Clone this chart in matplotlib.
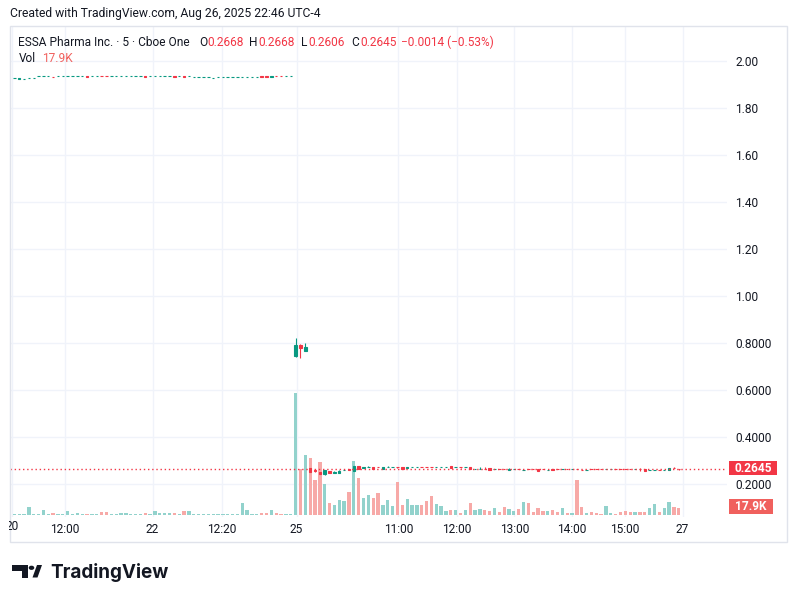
import matplotlib
matplotlib.use("Agg")
import matplotlib.pyplot as plt
import matplotlib.transforms as mtransforms
from matplotlib.patches import Rectangle, Circle, Polygon
import numpy as np

# ESSA Pharma, 5 min bars (index-based time axis like TradingView)
opens = [
    1.927, 1.925, 1.925, 1.927, 1.927, 1.937, 1.937, 1.937, 1.934, 1.937,
    1.937, 1.937, 1.937, 1.937, 1.937, 1.937, 1.937, 1.937, 1.938, 1.938,
    1.937, 1.937, 1.937, 1.937, 1.937, 1.937, 1.937, 1.937, 1.937, 1.937,
    1.937, 1.937, 1.937, 1.937, 1.937, 1.937, 1.937, 1.933, 1.933, 1.933,
    1.933, 1.927, 1.935, 1.935, 1.935, 1.935, 1.935, 1.935, 1.935, 1.935,
    1.935, 1.936, 1.936, 1.933, 1.938, 1.938, 1.937, 1.937,
    0.746, 0.794, 0.768, 0.268, 0.259, 0.252, 0.244, 0.258, 0.250, 0.250,
    0.261, 0.264, 0.258, 0.278, 0.271, 0.274, 0.272, 0.273, 0.265, 0.273,
    0.274, 0.275, 0.272, 0.271, 0.274, 0.274, 0.275, 0.273, 0.273, 0.274,
    0.274, 0.274, 0.278, 0.272, 0.273, 0.272, 0.274, 0.266, 0.266, 0.267,
    0.269, 0.264, 0.265, 0.265, 0.263, 0.264, 0.265, 0.261, 0.265, 0.265,
    0.264, 0.265, 0.259, 0.264, 0.265, 0.264, 0.265, 0.264, 0.265, 0.261,
    0.261, 0.265, 0.265, 0.265, 0.264, 0.264, 0.265, 0.265, 0.265, 0.265,
    0.264, 0.265, 0.264, 0.261, 0.261, 0.262, 0.261, 0.261, 0.270, 0.2668,
]
highs = [
    1.927, 1.929, 1.925, 1.927, 1.927, 1.937, 1.937, 1.937, 1.934, 1.937,
    1.937, 1.937, 1.937, 1.937, 1.937, 1.937, 1.937, 1.937, 1.938, 1.938,
    1.937, 1.937, 1.937, 1.937, 1.937, 1.937, 1.937, 1.937, 1.937, 1.937,
    1.937, 1.937, 1.937, 1.937, 1.937, 1.937, 1.937, 1.933, 1.933, 1.933,
    1.933, 1.927, 1.935, 1.935, 1.935, 1.935, 1.935, 1.935, 1.935, 1.935,
    1.935, 1.936, 1.936, 1.939, 1.938, 1.938, 1.937, 1.937,
    0.823, 0.797, 0.803, 0.270, 0.264, 0.252, 0.261, 0.258, 0.258, 0.261,
    0.261, 0.265, 0.278, 0.278, 0.275, 0.278, 0.272, 0.273, 0.272, 0.278,
    0.274, 0.275, 0.272, 0.274, 0.274, 0.274, 0.275, 0.273, 0.273, 0.274,
    0.274, 0.274, 0.278, 0.272, 0.275, 0.272, 0.274, 0.266, 0.272, 0.272,
    0.269, 0.265, 0.265, 0.265, 0.268, 0.264, 0.265, 0.261, 0.265, 0.265,
    0.264, 0.265, 0.260, 0.264, 0.265, 0.264, 0.265, 0.264, 0.265, 0.261,
    0.261, 0.265, 0.265, 0.265, 0.264, 0.264, 0.265, 0.265, 0.265, 0.265,
    0.264, 0.269, 0.264, 0.261, 0.261, 0.262, 0.261, 0.269, 0.272, 0.2668,
]
lows = [
    1.927, 1.925, 1.925, 1.927, 1.927, 1.937, 1.937, 1.937, 1.933, 1.937,
    1.937, 1.937, 1.937, 1.937, 1.937, 1.932, 1.937, 1.937, 1.937, 1.937,
    1.937, 1.937, 1.937, 1.937, 1.937, 1.937, 1.937, 1.932, 1.937, 1.937,
    1.937, 1.937, 1.937, 1.932, 1.937, 1.932, 1.937, 1.933, 1.933, 1.933,
    1.933, 1.927, 1.935, 1.935, 1.935, 1.935, 1.935, 1.935, 1.935, 1.935,
    1.935, 1.935, 1.935, 1.933, 1.937, 1.937, 1.937, 1.937,
    0.743, 0.737, 0.768, 0.253, 0.254, 0.244, 0.240, 0.250, 0.250, 0.250,
    0.261, 0.261, 0.258, 0.265, 0.268, 0.274, 0.265, 0.272, 0.265, 0.272,
    0.274, 0.270, 0.265, 0.271, 0.274, 0.274, 0.274, 0.272, 0.272, 0.274,
    0.274, 0.274, 0.269, 0.272, 0.268, 0.272, 0.264, 0.266, 0.266, 0.266,
    0.262, 0.264, 0.264, 0.264, 0.263, 0.264, 0.264, 0.261, 0.264, 0.264,
    0.258, 0.264, 0.259, 0.260, 0.264, 0.264, 0.264, 0.264, 0.264, 0.260,
    0.261, 0.264, 0.264, 0.264, 0.264, 0.264, 0.264, 0.264, 0.264, 0.264,
    0.264, 0.258, 0.255, 0.261, 0.261, 0.261, 0.261, 0.261, 0.269, 0.2606,
]
closes = [
    1.927, 1.929, 1.925, 1.927, 1.927, 1.937, 1.937, 1.937, 1.933, 1.937,
    1.937, 1.937, 1.937, 1.937, 1.937, 1.932, 1.937, 1.937, 1.937, 1.937,
    1.937, 1.937, 1.937, 1.937, 1.937, 1.937, 1.937, 1.932, 1.937, 1.937,
    1.937, 1.937, 1.937, 1.932, 1.937, 1.932, 1.937, 1.933, 1.933, 1.933,
    1.933, 1.927, 1.935, 1.935, 1.935, 1.935, 1.935, 1.935, 1.935, 1.935,
    1.935, 1.935, 1.935, 1.939, 1.937, 1.937, 1.937, 1.937,
    0.793, 0.779, 0.783, 0.254, 0.257, 0.244, 0.261, 0.250, 0.254, 0.257,
    0.261, 0.262, 0.278, 0.265, 0.272, 0.275, 0.265, 0.272, 0.272, 0.274,
    0.274, 0.274, 0.265, 0.272, 0.274, 0.274, 0.274, 0.272, 0.272, 0.274,
    0.274, 0.274, 0.269, 0.272, 0.272, 0.272, 0.264, 0.266, 0.266, 0.266,
    0.262, 0.265, 0.264, 0.264, 0.264, 0.264, 0.264, 0.261, 0.264, 0.264,
    0.258, 0.264, 0.260, 0.260, 0.264, 0.264, 0.264, 0.264, 0.264, 0.260,
    0.261, 0.264, 0.264, 0.264, 0.264, 0.264, 0.264, 0.264, 0.264, 0.264,
    0.264, 0.264, 0.255, 0.261, 0.261, 0.261, 0.261, 0.269, 0.269, 0.2645,
]
# volume in thousands
volumes = [
    2, 2, 2, 19.5, 2, 2, 13.4, 2, 3.5, 2,
    2, 10.7, 2, 3.5, 2, 2, 2, 2, 6.1, 7.2,
    2, 2, 5.3, 5.3, 2, 2, 2, 3.5, 2, 10.7,
    5.3, 5.3, 3.5, 3.5, 2, 8.8, 8.8, 2, 2, 2,
    2, 2, 2, 2, 2, 2, 2, 30.2, 11.5, 2,
    2, 3.5, 3.5, 11.5, 5.3, 2.7, 2.7, 2.7,
    326, 122, 159, 151, 93, 142, 83, 32, 27, 40,
    37, 61, 144, 99, 45, 53, 45, 59, 27, 40,
    24, 88, 27, 43, 27, 27, 27, 37, 51, 29,
    24, 11, 13, 13, 5, 13, 32, 13, 16, 13,
    11, 18, 7, 21, 15, 11, 15, 35, 32, 7,
    18, 11, 11, 13, 7, 18, 5, 5, 93, 21,
    5, 7, 5, 3, 23, 5, 3, 7, 10, 7,
    7, 7, 7, 18, 29, 7, 18, 34, 21, 17.9,
]

time_labels = ["20", "12:00", "22", "12:20", "25", "11:00", "12:00", "13:00", "14:00", "15:00", "27"]
time_pos = [-0.4, 10.5, 28.5, 42.8, 58.2, 79.2, 91.2, 103.1, 115.0, 125.9, 137.8]
price_levels = [0.2, 0.4, 0.6, 0.8, 1.0, 1.2, 1.4, 1.6, 1.8, 2.0]
price_labels = ["0.2000", "0.4000", "0.6000", "0.8000", "1.00", "1.20", "1.40", "1.60", "1.80", "2.00"]
last_price = 0.2645
last_vol = "17.9K"

UP, DOWN = "#089981", "#f23645"
VUP, VDOWN = "#92d2cc", "#f7a9a7"
GRID, FRAME, TXT = "#f0f3fa", "#e0e3eb", "#131722"

W, H = 798, 603
plt.rcParams["font.family"] = ["Roboto", "DejaVu Sans"]

fig = plt.figure(figsize=(W / 100, H / 100), dpi=100)
fig.patch.set_facecolor("white")


def fx(x):
    return x / W


def fy(y):
    return 1 - y / H


# chart pane, pixel box
L, T, R, B = 10, 26, 727, 517
ax = fig.add_axes([fx(L), fy(B), (R - L) / W, (B - T) / H])
ax.set_facecolor("white")
ax.set_xlim(-0.89, 146.95)
ax.set_ylim(0.0609, 2.150)
for s in ax.spines.values():
    s.set_visible(False)

# grid
ax.set_axisbelow(True)
ax.set_xticks(time_pos[1:])
ax.set_xticklabels(time_labels[1:])
ax.yaxis.tick_right()
ax.set_yticks(price_levels)
ax.set_yticklabels(price_labels)
ax.grid(True, color=GRID, lw=1.0)
ax.axvline(time_pos[0], color=GRID, lw=1.0, zorder=0.5)
ax.tick_params(axis="both", length=0, colors=TXT, labelsize=8.6)
ax.tick_params(axis="x", pad=4)
ax.tick_params(axis="y", pad=6)

x = np.arange(len(closes))
o = np.array(opens)
c = np.array(closes)
up = c >= o
col = np.where(up, UP, DOWN)
vcol = np.where(up, VUP, VDOWN)

# volume overlay in the lower part of the pane
vol_tr = mtransforms.blended_transform_factory(
    ax.transData,
    mtransforms.Affine2D().scale(1, 1 / 1311.0).translate(0, 0.0047) + ax.transAxes)
ax.bar(x, volumes, width=0.68, color=vcol, linewidth=0, transform=vol_tr, zorder=2)

# candles
ax.vlines(x, lows, highs, colors=col, lw=0.8, zorder=3)
ax.bar(x, c - o, bottom=o, width=0.5, color=col, edgecolor=col, linewidth=0.8, zorder=4)

# last price line
ax.axhline(last_price, color=DOWN, lw=1.0, ls=(0, (1, 2)), zorder=5)

# clipped first time label
t20 = fig.text(fx(12), fy(527), time_labels[0], ha="center", va="center", fontsize=8.6, color=TXT)
t20.set_clip_box(mtransforms.Bbox.from_extents(9, 0, W, H))

# outer frame
fig.add_artist(Rectangle((fx(9.5), fy(541.5)), (787 - 9.5) / W, (541.5 - 26) / H,
                         transform=fig.transFigure, fill=False, edgecolor=FRAME, lw=1))

# price / volume tags on the scale
fig.add_artist(Rectangle((fx(729), fy(475)), 48 / W, 14 / H, transform=fig.transFigure,
                         facecolor=DOWN, edgecolor="none"))
fig.text(fx(753), fy(468), f"{last_price:.4f}", ha="center", va="center",
         fontsize=8.6, fontweight="bold", color="white")
fig.add_artist(Rectangle((fx(729), fy(514)), 44 / W, 15 / H, transform=fig.transFigure,
                         facecolor="#f0605d", edgecolor="none"))
fig.text(fx(751), fy(506.5), last_vol, ha="center", va="center",
         fontsize=8.6, fontweight="bold", color="white")

# header + legend
fig.text(fx(10), fy(13), "Created with TradingView.com, Aug 26, 2025 22:46 UTC-4",
         ha="left", va="center", fontsize=8.7, color=TXT)
ly = fy(42)
fig.text(fx(18.5), ly, "ESSA Pharma Inc. · 5 · Cboe One", ha="left", va="center", fontsize=8.6, color=TXT)
for lab, xl, val, xv in [("O", 199, "0.2668", 207.5), ("H", 249.3, "0.2668", 258.7),
                         ("L", 301, "0.2606", 308.7), ("C", 351.7, "0.2645", 360.3)]:
    fig.text(fx(xl), ly, lab, ha="left", va="center", fontsize=8.6, color=TXT)
    fig.text(fx(xv), ly, val, ha="left", va="center", fontsize=8.6, color=DOWN)
fig.text(fx(401), ly, "\u22120.0014 (\u22120.53%)", ha="left", va="center", fontsize=8.6, color=DOWN)
fig.text(fx(18.5), fy(59), "Vol", ha="left", va="center", fontsize=8.6, color=TXT)
fig.text(fx(42.3), fy(59), last_vol, ha="left", va="center", fontsize=8.6, color="#f0605d")

# TradingView logo
fig.add_artist(Rectangle((fx(12), fy(570.5)), 16 / W, 5.5 / H, transform=fig.transFigure,
                         facecolor="#131722", edgecolor="none"))
fig.add_artist(Rectangle((fx(21.5), fy(577.5)), 6.5 / W, 12.5 / H, transform=fig.transFigure,
                         facecolor="#131722", edgecolor="none"))
fig.add_artist(Circle((fx(31.5), fy(567.8)), 2.8 / W, transform=fig.transFigure,
                      facecolor="#131722", edgecolor="none"))
fig.add_artist(Polygon([(fx(32.5), fy(577.5)), (fx(37.5), fy(577.5)), (fx(42), fy(565)), (fx(37), fy(565))],
                       closed=True, transform=fig.transFigure, facecolor="#131722", edgecolor="none"))
fig.text(fx(50.5), fy(572), "TradingView", ha="left", va="center", fontsize=13.6,
         fontweight="bold", color="#131722", family=["Inter", "Roboto", "DejaVu Sans"])

fig.savefig("out.png", dpi=100, facecolor="white")
